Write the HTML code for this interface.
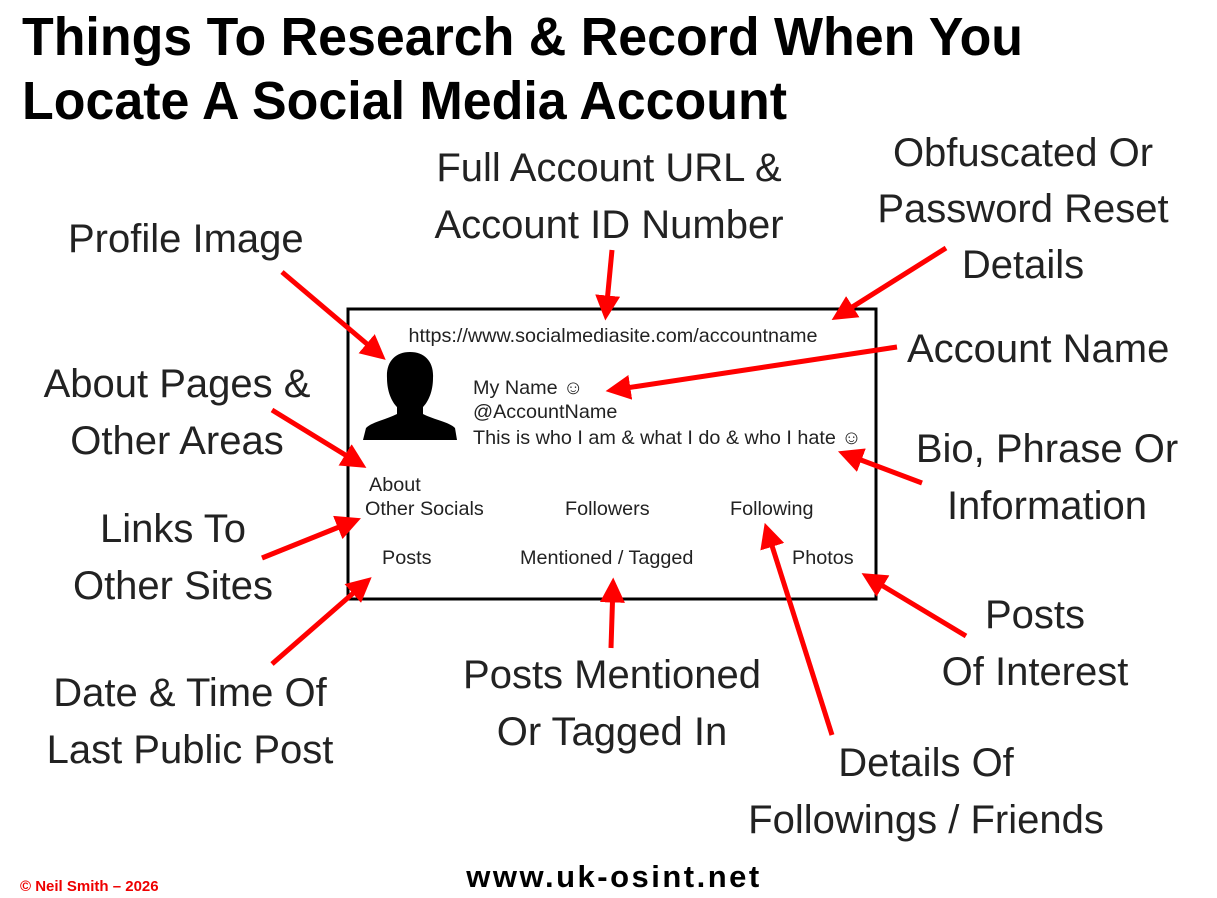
<!DOCTYPE html>
<html><head><meta charset="utf-8"><style>
html,body{margin:0;padding:0;background:#fff;}
svg{display:block;}
.l{font-family:"Liberation Sans",sans-serif;font-size:40px;fill:#222;}
.b{font-family:"Liberation Sans",sans-serif;font-size:19.8px;fill:#222;}
</style></head><body>
<svg width="1217" height="898" viewBox="0 0 1217 898" xmlns="http://www.w3.org/2000/svg">
<defs><marker id="a" markerWidth="5" markerHeight="5" refX="3.5" refY="2.5" orient="auto" markerUnits="strokeWidth"><path d="M0,0 L5,2.5 L0,5 z" fill="#f00"/></marker></defs>
<text x="22" y="55" font-family="Liberation Sans,sans-serif" font-weight="bold" font-size="54" fill="#000" textLength="1001" lengthAdjust="spacingAndGlyphs">Things To Research &amp; Record When You</text>
<text x="22" y="119" font-family="Liberation Sans,sans-serif" font-weight="bold" font-size="54" fill="#000" textLength="765" lengthAdjust="spacingAndGlyphs">Locate A Social Media Account</text>
<rect x="348" y="309" width="528" height="290" fill="none" stroke="#000" stroke-width="3"/>
<text class="b" x="613" y="342" text-anchor="middle">https://www.socialmediasite.com/accountname</text>
<path d="M410,352 C395,352 386,362 387,378 C387,392 392,402 397,407 L397,414 C385,420 372,422 366,428 L363,440 L457,440 L455,428 C449,422 435,420 423,414 L423,407 C428,402 433,392 433,378 C434,362 425,352 410,352 Z" fill="#000"/>
<text class="b" x="473" y="394">My Name ☺</text>
<text class="b" x="473" y="418">@AccountName</text>
<text class="b" x="473" y="444">This is who I am &amp; what I do &amp; who I hate ☺</text>
<text class="b" x="369" y="491">About</text>
<text class="b" x="365" y="515">Other Socials</text>
<text class="b" x="565" y="515">Followers</text>
<text class="b" x="730" y="515">Following</text>
<text class="b" x="382" y="564">Posts</text>
<text class="b" x="520" y="564">Mentioned  / Tagged</text>
<text class="b" x="792" y="564">Photos</text>
<g stroke="#f00" stroke-width="5" marker-end="url(#a)" fill="none">
<line x1="282" y1="272" x2="380" y2="355"/>
<line x1="612" y1="250" x2="606" y2="313"/>
<line x1="946" y1="248" x2="838" y2="316"/>
<line x1="897" y1="347" x2="613" y2="390"/>
<line x1="272" y1="410" x2="360" y2="464"/>
<line x1="922" y1="483" x2="845" y2="454"/>
<line x1="262" y1="558" x2="354" y2="521"/>
<line x1="832" y1="735" x2="767" y2="530"/>
<line x1="966" y1="636" x2="868" y2="577"/>
<line x1="611" y1="648" x2="613" y2="585"/>
<line x1="272" y1="664" x2="366" y2="582"/>
</g>
<g class="l">
<text x="609" y="181" text-anchor="middle">Full Account URL &amp;</text>
<text x="609" y="238" text-anchor="middle">Account ID Number</text>
<text x="1023" y="166" text-anchor="middle">Obfuscated Or</text>
<text x="1023" y="222" text-anchor="middle">Password Reset</text>
<text x="1023" y="278" text-anchor="middle">Details</text>
<text x="68" y="252">Profile Image</text>
<text x="907" y="362">Account Name</text>
<text x="177" y="397" text-anchor="middle">About Pages &amp;</text>
<text x="177" y="454" text-anchor="middle">Other Areas</text>
<text x="1047" y="462" text-anchor="middle">Bio, Phrase Or</text>
<text x="1047" y="519" text-anchor="middle">Information</text>
<text x="173" y="542" text-anchor="middle">Links To</text>
<text x="173" y="599" text-anchor="middle">Other Sites</text>
<text x="1035" y="628" text-anchor="middle">Posts</text>
<text x="1035" y="685" text-anchor="middle">Of Interest</text>
<text x="190" y="706" text-anchor="middle">Date &amp; Time Of</text>
<text x="190" y="763" text-anchor="middle">Last Public Post</text>
<text x="612" y="688" text-anchor="middle">Posts Mentioned</text>
<text x="612" y="745" text-anchor="middle">Or Tagged In</text>
<text x="926" y="776" text-anchor="middle">Details Of</text>
<text x="926" y="833" text-anchor="middle">Followings / Friends</text>
</g>
<text x="20" y="891" font-family="Liberation Sans,sans-serif" font-weight="bold" font-size="15" fill="#e00">© Neil Smith – 2026</text>
<text x="614" y="887" text-anchor="middle" font-family="Liberation Sans,sans-serif" font-weight="bold" font-size="31" fill="#000" letter-spacing="2.5">www.uk-osint.net</text>
</svg>
</body></html>
